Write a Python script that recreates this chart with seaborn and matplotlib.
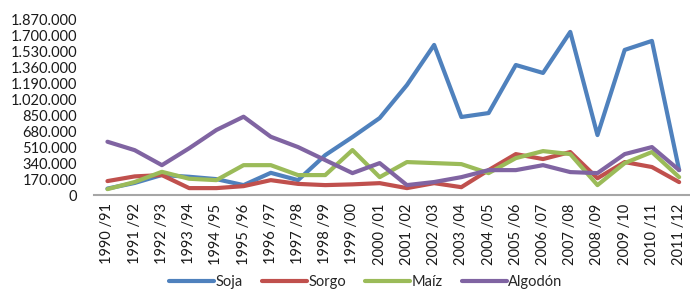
import matplotlib
matplotlib.use("Agg")
import matplotlib.pyplot as plt
import matplotlib.ticker as mticker
import seaborn as sns
import pandas as pd

# campañas agrícolas
campanas = ["1990 /91", "1991 /92", "1992 /93", "1993 /94", "1994 /95", "1995 /96",
            "1996 /97", "1997 /98", "1998 /99", "1999 /00", "2000 /01", "2001 /02",
            "2002 /03", "2003 /04", "2004 /05", "2005 /06", "2006 /07", "2007 /08",
            "2008 /09", "2009 /10", "2010 /11", "2011 /12"]

soja = [70000, 130000, 215000, 196000, 171000, 107000, 238000, 160000, 427000, 620000,
        823000, 1175000, 1603000, 834000, 876000, 1389000, 1304000, 1742000, 641000,
        1550000, 1646000, 267000]
sorgo = [150000, 200000, 214000, 75000, 75000, 96000, 160000, 120000, 107000, 115000,
         128000, 75000, 128000, 85000, 267000, 438000, 385000, 460000, 180000, 353000,
         300000, 139000]
maiz = [64000, 140000, 249000, 175000, 160000, 320000, 320000, 214000, 214000, 481000,
        192000, 353000, 342000, 331000, 235000, 395000, 470000, 438000, 107000, 342000,
        460000, 192000]
algodon = [570000, 480000, 320000, 500000, 695000, 837000, 623000, 513000, 374000, 235000,
           342000, 107000, 140000, 192000, 267000, 267000, 320000, 246000, 235000, 438000,
           513000, 267000]

series = ["Soja", "Sorgo", "Maíz", "Algodón"]
colores = ["#4F81BD", "#C0504D", "#9BBB59", "#8064A2"]

df = pd.DataFrame({"campana": campanas, "Soja": soja, "Sorgo": sorgo,
                   "Maíz": maiz, "Algodón": algodon})
largo = df.melt(id_vars="campana", var_name="cultivo", value_name="valor")
largo["x"] = largo["campana"].map({c: i for i, c in enumerate(campanas)})

sns.set_style("white")
plt.rcParams["font.family"] = ["Lato", "DejaVu Sans"]

fig = plt.figure(figsize=(6.9, 2.93), dpi=100)
ax = fig.add_axes([0.136, 0.334, 0.868, 0.598])

sns.lineplot(data=largo, x="x", y="valor", hue="cultivo", hue_order=series,
             palette=colores, linewidth=3.0, ax=ax, sort=False)

ax.set_xlim(-0.5, len(campanas) - 0.5)
ax.set_ylim(0, 1870000)
ax.set_yticks(range(0, 1870001, 170000))
ax.yaxis.set_major_formatter(mticker.FuncFormatter(lambda v, p: f"{int(v):,}".replace(",", ".")))
ax.set_xticks(range(len(campanas)))
ax.set_xticklabels(campanas, rotation=90)
ax.tick_params(axis="both", length=0, labelsize=10.5, colors="#1a1a1a")
ax.tick_params(axis="y", pad=12)
ax.tick_params(axis="x", pad=6)
ax.set_xlabel("")
ax.set_ylabel("")

for s in ["top", "right", "left"]:
    ax.spines[s].set_visible(False)
ax.spines["bottom"].set_color("#A6A6A6")
ax.spines["bottom"].set_linewidth(1.5)

ax.legend_.remove()
handles, labels = ax.get_legend_handles_labels()
fig.legend(handles, labels, loc="lower center", bbox_to_anchor=(0.53, -0.03), ncol=4,
           frameon=False, fontsize=10.5, handlelength=3.1, handletextpad=0.1,
           columnspacing=1.3)

fig.savefig("out.png", dpi=100)
